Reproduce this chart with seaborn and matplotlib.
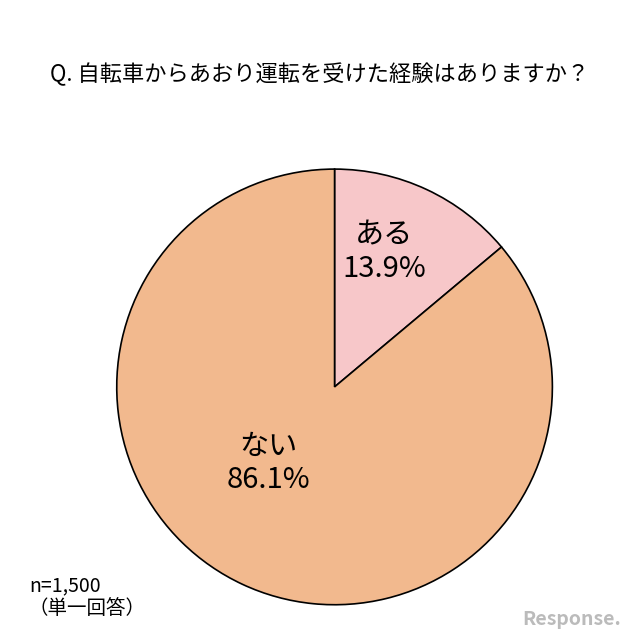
import matplotlib
matplotlib.use('Agg')
import matplotlib.pyplot as plt
import seaborn as sns

sns.set_style('white')
plt.rcParams['font.family'] = ['Noto Sans CJK JP', 'DejaVu Sans']
plt.rcParams['text.color'] = 'black'

labels = ['ある', 'ない']
shares = [13.9, 86.1]
colors = ['#F7C7C9', '#F2B98E']

fig = plt.figure(figsize=(6.4, 6.39), dpi=100)
ax = fig.add_axes([0.179, 0.05, 0.6875, 0.689])
ax.pie(shares, colors=colors, startangle=90, counterclock=False,
       wedgeprops=dict(edgecolor='black', linewidth=1.2))
ax.set_xlim(-1.01, 1.01)
ax.set_ylim(-1.01, 1.01)
ax.set_aspect('equal')

# slice labels (figure coords)
fig.text(0.6, 0.605, f'{labels[0]}\n{shares[0]}%', ha='center', va='center',
         fontsize=21, linespacing=1.15)
fig.text(0.42, 0.275, f'{labels[1]}\n{shares[1]}%', ha='center', va='center',
         fontsize=21, linespacing=1.15)

fig.text(0.5, 0.883, 'Q. 自転車からあおり運転を受けた経験はありますか？',
         ha='center', va='center', fontsize=16)
fig.text(0.045, 0.065, 'n=1,500\n（単一回答）', ha='left', va='center', fontsize=14,
         linespacing=1.1)
fig.text(0.97, 0.03, 'Response.', ha='right', va='center', fontsize=14,
         color='#bbbbbb', style='italic', fontweight='bold')

fig.savefig('out.png', dpi=100)
